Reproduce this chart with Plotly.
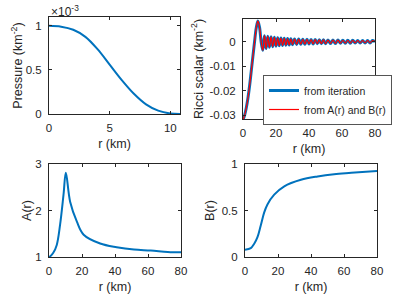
import plotly.graph_objects as go

# ---------------- data ----------------
r_p = [0, 1, 2, 3, 4, 5, 6, 7, 8, 9, 10, 10.8]
pressure = [1.0e-3, 0.99e-3, 0.955e-3, 0.875e-3, 0.735e-3, 0.56e-3, 0.385e-3,
            0.23e-3, 0.11e-3, 0.038e-3, 0.006e-3, 0.0]

r_ricci = [0, 1, 2, 3, 4, 5, 6, 7, 8, 9, 10, 11, 12,
           13, 14, 15, 16, 17, 18, 19, 20, 21, 22, 23, 24, 25, 26, 27, 28, 29, 30,
           31.25, 32.5, 33.75, 35, 36.25, 37.5, 38.75, 40, 41.25, 42.5, 43.75, 45,
           46.25, 47.5, 48.75, 50,
           51.5, 53, 54.5, 56, 57.5, 59, 60.5, 62, 63.5, 65, 66.5, 68, 69.5, 71,
           72.5, 74, 75.5, 77, 78.5, 80]
ricci = [-0.032, -0.030, -0.027, -0.023, -0.018, -0.012, -0.006, 0.000, 0.0055,
         0.0085, 0.006, 0.000, -0.0035,
         0.0025, -0.0028, 0.0022, -0.0023, 0.002, -0.002, 0.0018, -0.0018,
         0.0016, -0.0016, 0.0015, -0.0015, 0.0014, -0.0014, 0.0013, -0.0013,
         0.0012, -0.0012,
         0.0011, -0.0011, 0.0011, -0.001, 0.001, -0.001, 0.001, -0.0009,
         0.0009, -0.0009, 0.0009, -0.0008, 0.0008, -0.0008, 0.0008, -0.0008,
         0.0007, -0.0007, 0.0007, -0.0007, 0.0007, -0.0006, 0.0006, -0.0006,
         0.0006, -0.0006, 0.0006, -0.0005, 0.0005, -0.0005, 0.0005, -0.0005,
         0.0005, -0.0005, 0.0005, 0.0]
ricci_ab = list(ricci)

r_a = [0, 0.6, 2.6, 4.7, 6.7, 8.8, 10.2, 12.8, 16.9, 21, 31, 41, 51.5, 61.7, 72, 80]
A = [1.0, 1.01, 1.09, 1.26, 1.69, 2.34, 2.81, 2.19, 1.76, 1.48, 1.29, 1.21,
     1.16, 1.14, 1.11, 1.10]

r_b = [0, 3.5, 5.5, 7.5, 9.5, 11.6, 13.6, 17.7, 23.8, 33.9, 44, 54, 64.4, 80]
B = [0.078, 0.095, 0.14, 0.21, 0.336, 0.477, 0.565, 0.67, 0.76, 0.83, 0.866,
     0.89, 0.905, 0.926]

W, H = 413, 297
BLUE = "#0072BD"
AX = "#262626"
FONT = "Liberation Sans, Arial, sans-serif"


def dom_x(a, b):
    return [a / W, b / W]


def dom_y(top, bottom):
    return [1 - bottom / H, 1 - top / H]


fig = go.Figure()
fig.add_trace(go.Scatter(x=r_p, y=[p / 1e-3 for p in pressure], mode="lines",
                         line=dict(color=BLUE, width=2, shape="spline"),
                         xaxis="x", yaxis="y", showlegend=False))
fig.add_trace(go.Scatter(x=r_ricci, y=ricci, mode="lines", name="from iteration",
                         line=dict(color=BLUE, width=3, shape="spline"),
                         xaxis="x2", yaxis="y2"))
fig.add_trace(go.Scatter(x=r_ricci, y=ricci_ab, mode="lines",
                         name="from A(r) and B(r)",
                         line=dict(color="#FF0000", width=1.2, shape="spline"),
                         xaxis="x2", yaxis="y2"))
fig.add_trace(go.Scatter(x=r_a, y=A, mode="lines",
                         line=dict(color=BLUE, width=2, shape="spline"),
                         xaxis="x3", yaxis="y3", showlegend=False))
fig.add_trace(go.Scatter(x=r_b, y=B, mode="lines",
                         line=dict(color=BLUE, width=2, shape="spline"),
                         xaxis="x4", yaxis="y4", showlegend=False))

common = dict(showline=True, linecolor=AX, linewidth=1, mirror="ticks",
              ticks="inside", ticklen=3, tickcolor=AX, showgrid=False,
              zeroline=False, automargin=False,
              tickfont=dict(size=11.5, color=AX, family=FONT),
              title_font=dict(size=12.5, color=AX, family=FONT))
xc = dict(common, ticklabelstandoff=3)
yc = dict(common, ticklabelstandoff=4)

fig.update_layout(
    template=None,
    width=W, height=H, margin=dict(l=0, r=0, t=0, b=0),
    paper_bgcolor="white", plot_bgcolor="white",
    font=dict(family=FONT, color=AX),
    xaxis=dict(domain=dom_x(49, 180), anchor="y", range=[0, 10.8],
               tickvals=[0, 5, 10], title=dict(text="r (km)", standoff=6), **xc),
    yaxis=dict(domain=dom_y(17, 114), anchor="x", range=[0, 1.1],
               tickvals=[0, 0.5, 1],
               title=dict(text="Pressure (km<sup>-2</sup>)", standoff=0), **yc),
    xaxis2=dict(domain=dom_x(243, 375), anchor="y2", range=[0, 80],
                tickvals=[0, 20, 40, 60, 80],
                title=dict(text="r (km)", standoff=6), **xc),
    yaxis2=dict(domain=dom_y(19, 119), anchor="x2", range=[-0.0316, 0.0093],
                tickvals=[-0.03, -0.02, -0.01, 0],
                ticktext=["-0.03", "-0.02", "-0.01", "0"],
                title=dict(text="Ricci scalar (km<sup>-2</sup>)", standoff=3), **yc),
    xaxis3=dict(domain=dom_x(49, 181), anchor="y3", range=[0, 80],
                tickvals=[0, 20, 40, 60, 80],
                title=dict(text="r (km)", standoff=6), **xc),
    yaxis3=dict(domain=dom_y(164, 257), anchor="x3", range=[1, 3],
                tickvals=[1, 2, 3], title=dict(text="A(r)", standoff=0), **yc),
    xaxis4=dict(domain=dom_x(245, 377), anchor="y4", range=[0, 80],
                tickvals=[0, 20, 40, 60, 80],
                title=dict(text="r (km)", standoff=6), **xc),
    yaxis4=dict(domain=dom_y(164, 257), anchor="x4", range=[0, 1],
                tickvals=[0, 0.5, 1], title=dict(text="B(r)", standoff=4), **yc),
    legend=dict(x=263 / W, y=1 - 75 / H, xanchor="left", yanchor="top",
                bgcolor="white", bordercolor="#555", borderwidth=1,
                font=dict(size=10.5, color=AX, family=FONT),
                itemwidth=30, tracegroupgap=0),
    annotations=[dict(text="×10<sup>-3</sup>", x=49 / W, y=1 - 11 / H,
                      xref="paper", yref="paper", xanchor="left", yanchor="middle",
                      showarrow=False, font=dict(size=12, color=AX, family=FONT))],
)

fig.write_html("out.html", config={"displayModeBar": False},
               post_script="document.body.style.margin='0';"
                           "document.body.style.overflow='hidden';")
